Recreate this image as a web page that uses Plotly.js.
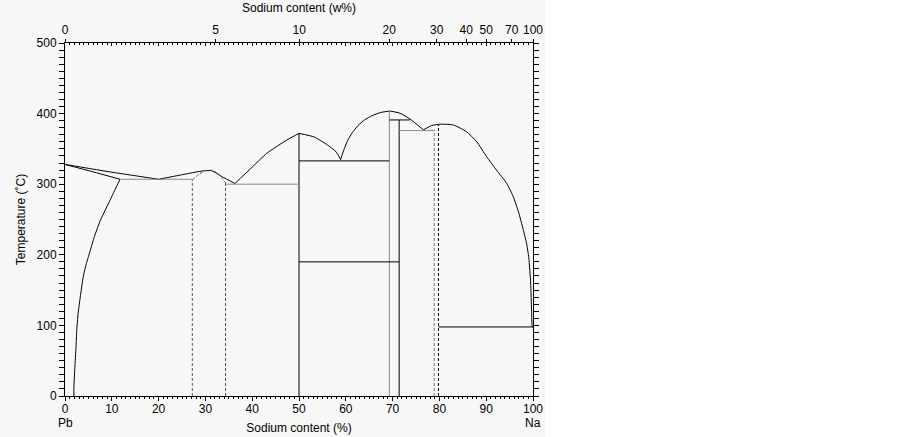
<!DOCTYPE html>
<html><head><meta charset="utf-8">
<script src="https://cdn.plot.ly/plotly-3.0.1.min.js"></script>
<style>html,body{margin:0;padding:0;background:#fff}#chart{width:902px;height:437px}</style>
</head><body><div id="chart"></div>
<script>
// ---- data (composition in at.% Na, temperature in °C) ----
const liqPbX = [0, 5, 10, 15, 20];
const liqPbT = [328, 322.5, 317, 312, 307];
const solPbX = [0, 6, 11.75];
const solPbT = [328, 317.5, 307];
const solvusPbX = [11.75, 10.6, 9.6, 8.5, 7.5, 6.3, 5.3, 4.5, 3.9, 3.3, 2.8, 2.5, 2.35, 2.1, 1.9, 1.9];
const solvusPbT = [307, 291, 277, 262, 248, 226, 204, 186, 169, 142, 117, 92, 69, 40, 12, 0];
const liq1X = [20, 24.7, 29.6, 31.4, 33.6, 36.3];
const liq1T = [307, 313, 319, 319, 310.5, 301];
const domeX = [27.2, 28.8, 30.2, 31.6, 33, 34.3];
const domeT = [306, 315, 319.5, 319.5, 313, 302];
const liq2X = [36.3, 39.5, 43.1, 47.4, 50];
const liq2T = [301, 321, 343.7, 362.6, 372];
const liq3X = [50, 53.2, 56.1, 57.9, 58.9];
const liq3T = [372, 367, 355.5, 346, 335];
const liq4X = [58.9, 59.6, 60.4, 61.4, 62.6, 64, 65.6, 67.4, 69.4, 71.6, 73.7, 76.6];
const liq4T = [335, 349, 362, 373, 383, 391, 397, 401.5, 403.5, 400.5, 392.4, 377];
const liq5X = [76.6, 78.3, 80.3, 83.0, 85.8, 88.0, 90.1, 92.2, 94.4, 95.8, 96.9, 97.9, 98.6, 99.1, 99.5, 99.7, 99.85, 100];
const liq5T = [377, 383, 385, 383.9, 374.4, 360, 338.9, 320, 301, 282, 260.8, 236, 217, 196, 160, 120, 98, 97.8];
// solid vertical lines: composition, top temperature, colour
const vertX = [50, 69.3, 71.4];
const vertTop = [372, 403.5, 391];
const vertCol = ['#000', '#8a8a8a', '#000'];
// dashed vertical lines
const dashX = [27.2, 34.3, 78.9, 79.8];
const dashTop = [306, 302, 377.5, 384];
const dashCol = ['#555', '#555', '#777', '#000'];
// horizontal (invariant) lines
const horT = [307, 300, 333, 190, 391, 376, 97.8];
const horX0 = [11.75, 34.3, 50, 50, 69.3, 71.4, 79.8];
const horX1 = [27.2, 50, 69.3, 71.4, 73.7, 78.9, 100];
const horCol = ['#8a8a8a', '#8a8a8a', '#000', '#000', '#000', '#8a8a8a', '#000'];
// axis ticks
const atTicks = [0, 10, 20, 30, 40, 50, 60, 70, 80, 90, 100];
const wtLabels = [0, 5, 10, 20, 30, 40, 50, 70, 100];
const tempTicks = [0, 100, 200, 300, 400, 500];
const M_NA = 22.99, M_PB = 207.2;

const wtToAt = w => { if (w >= 100) return 100; const n = w / M_NA, p = (100 - w) / M_PB; return 100 * n / (n + p); };

const traces = [];
function line(x, y, color, dash) {
  traces.push({x: x, y: y, type: 'scatter', mode: 'lines', hoverinfo: 'skip', showlegend: false,
    line: {color: color, width: 1, dash: dash || 'solid', shape: 'spline', smoothing: 0.5}});
}
function seg(x, y, color, dash) {
  traces.push({x: x, y: y, type: 'scatter', mode: 'lines', hoverinfo: 'skip', showlegend: false,
    line: {color: color, width: 1, dash: dash || 'solid'}});
}
line(liqPbX, liqPbT, '#000');
line(solPbX, solPbT, '#000');
line(solvusPbX, solvusPbT, '#000');
line(liq1X, liq1T, '#000');
line(domeX, domeT, '#555', '3px,2px');
line(liq2X, liq2T, '#000');
line(liq3X, liq3T, '#000');
line(liq4X, liq4T, '#000');
line(liq5X, liq5T, '#000');
vertX.forEach((x, i) => seg([x, x], [0, vertTop[i]], vertCol[i]));
dashX.forEach((x, i) => seg([x, x], [0, dashTop[i]], dashCol[i], '3px,2px'));
horT.forEach((t, i) => seg([horX0[i], horX1[i]], [t, t], horCol[i]));
// dummy traces to activate top axes
traces.push({x: [0, 100], y: [0, 0], xaxis: 'x2', type: 'scatter', mode: 'lines', line: {width: 0}, hoverinfo: 'skip', showlegend: false});
traces.push({x: [0, 100], y: [0, 0], xaxis: 'x3', type: 'scatter', mode: 'lines', line: {width: 0}, hoverinfo: 'skip', showlegend: false});

const F = {family: 'Liberation Sans, Arial, sans-serif', size: 12, color: '#000'};
const layout = {
  width: 902, height: 437,
  margin: {l: 65, r: 369, t: 43, b: 41},
  paper_bgcolor: '#ffffff', plot_bgcolor: '#f7f7f7',
  font: F, showlegend: false,
  xaxis: {range: [0, 100], tickmode: 'array', tickvals: atTicks, ticks: 'outside', ticklen: 4, tickcolor: '#000',
    minor: {dtick: 1, ticklen: 2, ticks: 'outside', tickcolor: '#000'},
    showline: true, linecolor: '#000', linewidth: 1, showgrid: false, zeroline: false, mirror: false,
    ticklabelstandoff: -2,
    tickfont: F, title: {text: 'Sodium content (%)', font: F, standoff: 8}},
  xaxis2: {overlaying: 'x', side: 'top', range: [0, 100], tickmode: 'array',
    tickvals: wtLabels.map(wtToAt), ticktext: wtLabels.map(String),
    ticks: 'outside', ticklen: 3, tickcolor: '#000', showline: true, linecolor: '#000', linewidth: 1,
    showgrid: false, zeroline: false, tickfont: F, title: {text: 'Sodium content (w%)', font: F, standoff: 8}},
  xaxis3: {overlaying: 'x', side: 'top', range: [0, 100], tickmode: 'linear', tick0: 0, dtick: 10,
    ticks: 'inside', ticklen: 3, tickcolor: '#000', showticklabels: false, showline: false,
    minor: {dtick: 1, ticklen: 2, ticks: 'inside', tickcolor: '#000'},
    showgrid: false, zeroline: false},
  yaxis: {range: [0, 500], tickmode: 'array', tickvals: tempTicks, ticks: 'outside', ticklen: 5, tickcolor: '#000',
    minor: {dtick: 10, ticklen: 3, ticks: 'outside', tickcolor: '#000'},
    showline: true, linecolor: '#000', linewidth: 1, mirror: 'allticks', showgrid: false, zeroline: false,
    tickfont: F, title: {text: 'Temperature (˚C)', font: F, standoff: 8}},
  shapes: [{type: 'rect', xref: 'paper', yref: 'paper', x0: -65 / 468, x1: 480 / 468, y0: -41 / 353, y1: 396 / 353,
    fillcolor: '#f7f7f7', line: {width: 0}, layer: 'below'}],
  annotations: [
    {text: 'Pb', xref: 'paper', yref: 'paper', x: 0, y: -27 / 353, yanchor: 'middle', xanchor: 'center', showarrow: false, font: F},
    {text: 'Na', xref: 'paper', yref: 'paper', x: 1, y: -27 / 353, yanchor: 'middle', xanchor: 'center', showarrow: false, font: F}
  ]
};
Plotly.newPlot('chart', traces, layout, {staticPlot: true, displayModeBar: false});
</script></body></html>
